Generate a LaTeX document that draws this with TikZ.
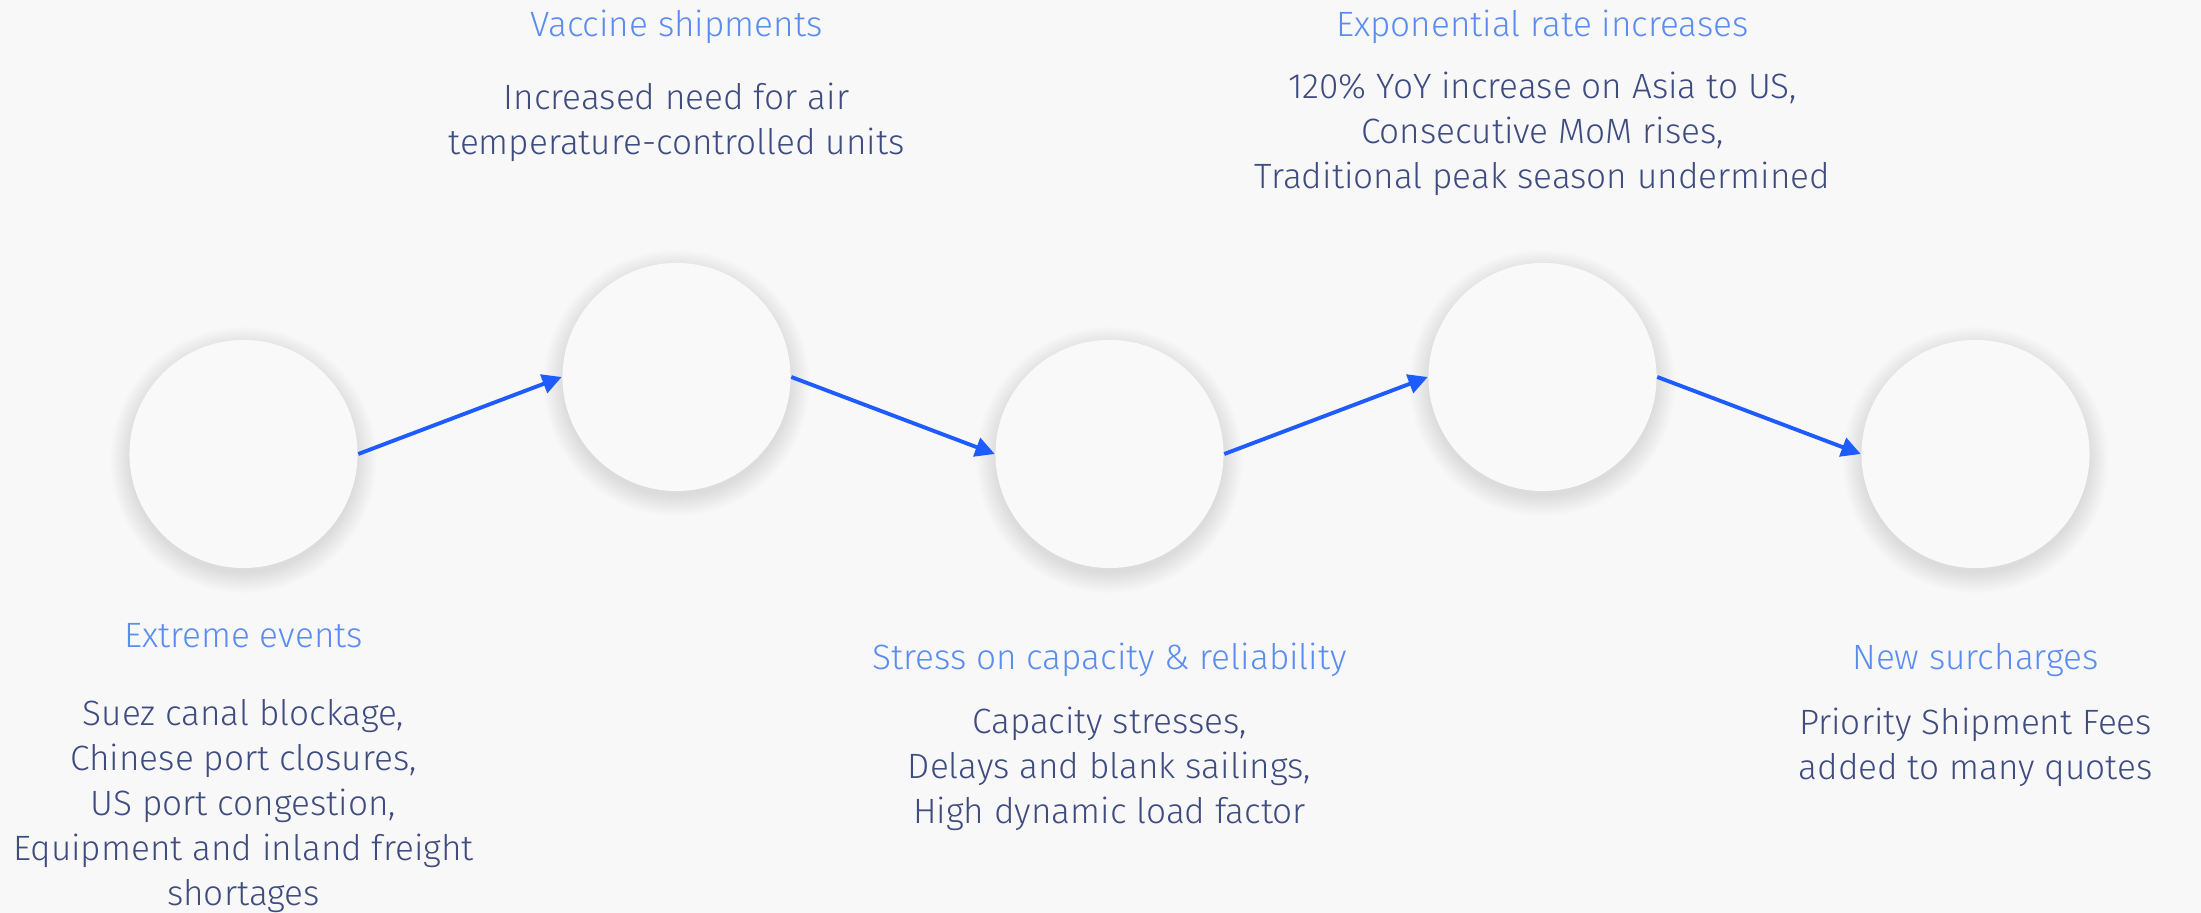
\documentclass[tikz,border=0pt]{standalone}
\usepackage{fontspec}
\setmainfont{Fira Sans Light}
\usetikzlibrary{arrows.meta}
\definecolor{bg}{HTML}{F8F8F8}
\definecolor{circ}{HTML}{F9F9F9}
\definecolor{ttl}{HTML}{5B8DF0}
\definecolor{bdy}{HTML}{3F4C80}
\definecolor{arr}{HTML}{1F5CFF}
\tikzset{
  stage/.style={circle, fill=circ, minimum size=2.28cm, inner sep=0pt},
  ttlnode/.style={text=ttl, font=\fontsize{10}{12.8}\selectfont, inner sep=0pt, align=center},
  bdynode/.style={text=bdy, font=\fontsize{10}{12.8}\selectfont, inner sep=0pt, align=center},
  flow/.style={draw=arr, line width=1.1pt, -{Triangle[length=5.5pt,width=5.5pt]}},
}
\begin{document}
\begin{tikzpicture}[x=0.01cm,y=-0.01cm]
\fill[bg] (0,0) rectangle (2201,913);
\useasboundingbox (0,0) rectangle (2201,913);
% shadows
\foreach \cx/\cy in {243.5/454, 676.5/377, 1109.5/454, 1542.5/377, 1975.5/454}{
  \foreach \k in {1,...,14}{
    \fill[black, opacity=0.008] (\cx,\cy+6) circle ({112+\k*1.5});
  }
}
\node[stage] (c1) at (243.5,454) {};
\node[stage] (c2) at (676.5,377) {};
\node[stage] (c3) at (1109.5,454) {};
\node[stage] (c4) at (1542.5,377) {};
\node[stage] (c5) at (1975.5,454) {};
\draw[flow] (c1.east) -- (c2.west);
\draw[flow] (c2.east) -- (c3.west);
\draw[flow] (c3.east) -- (c4.west);
\draw[flow] (c4.east) -- (c5.west);
% texts
\node[ttlnode] (t1) at (243.5,636) {Extreme events};
\node[bdynode] (b1) at (243.5,806) {Suez canal blockage,\\Chinese port closures,\\US port congestion,\\Equipment and inland freight\\shortages};
\node[ttlnode] (t2) at (676.5,27) {Vaccine shipments};
\node[bdynode] (b2) at (676.5,122) {Increased need for air\\temperature-controlled units};
\node[ttlnode] (t3) at (1109.5,660) {Stress on capacity \& reliability};
\node[bdynode] (b3) at (1109.5,769) {Capacity stresses,\\Delays and blank sailings,\\High dynamic load factor};
\node[ttlnode] (t4) at (1542.5,27) {Exponential rate increases};
\node[bdynode] (b4) at (1542.5,133.5) {120\% YoY increase on Asia to US,\\Consecutive MoM rises,\\Traditional peak season undermined};
\node[ttlnode] (t5) at (1975.5,660) {New surcharges};
\node[bdynode] (b5) at (1975.5,747.5) {Priority Shipment Fees\\added to many quotes};
\end{tikzpicture}
\end{document}
